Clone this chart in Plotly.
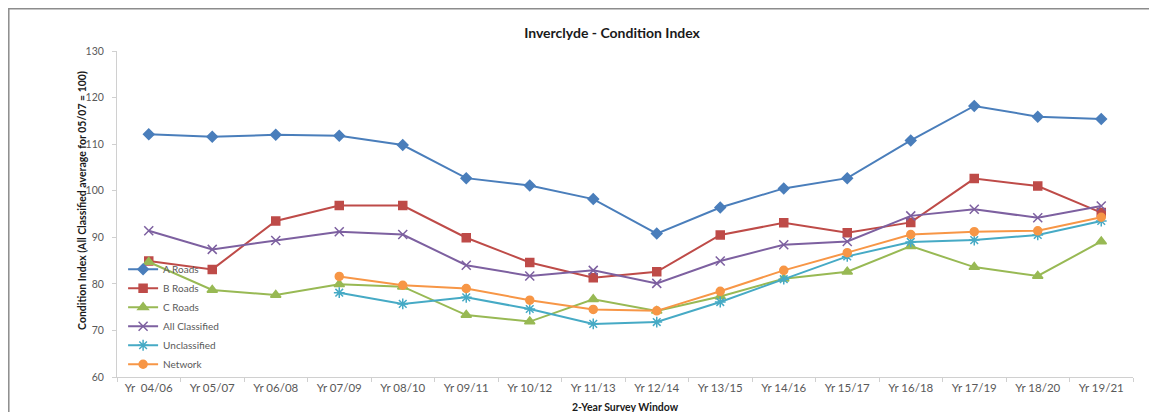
import plotly.graph_objects as go

categories = ["Yr  04/06", "Yr 05/07", "Yr 06/08", "Yr 07/09", "Yr 08/10", "Yr 09/11",
              "Yr 10/12", "Yr 11/13", "Yr 12/14", "Yr 13/15", "Yr 14/16", "Yr 15/17",
              "Yr 16/18", "Yr 17/19", "Yr 18/20", "Yr 19/21"]

a_roads = [112.1, 111.6, 112.0, 111.8, 109.8, 102.7, 101.1, 98.2, 90.8, 96.4,
           100.5, 102.7, 110.8, 118.2, 115.9, 115.4]
b_roads = [84.9, 83.1, 93.5, 96.8, 96.8, 89.9, 84.6, 81.3, 82.6, 90.5,
           93.1, 91.0, 93.2, 102.6, 101.0, 95.3]
c_roads = [84.7, 78.7, 77.6, 79.9, 79.4, 73.3, 71.9, 76.7, 74.2, 77.3,
           81.1, 82.6, 88.1, 83.6, 81.7, 89.1]
all_classified = [91.4, 87.4, 89.3, 91.2, 90.6, 84.0, 81.7, 82.9, 80.1, 84.9,
                  88.4, 89.1, 94.6, 96.0, 94.2, 96.7]
unclassified = [None, None, None, 78.1, 75.7, 77.1, 74.6, 71.4, 71.8, 76.1,
                81.0, 85.9, 89.0, 89.4, 90.5, 93.5]
network = [None, None, None, 81.6, 79.7, 79.0, 76.5, 74.5, 74.2, 78.4,
           82.9, 86.7, 90.6, 91.2, 91.4, 94.3]

series = [
    ("A Roads", a_roads, "#4A7EBB", "diamond", 8),
    ("B Roads", b_roads, "#BE4B48", "square", 8),
    ("C Roads", c_roads, "#98B954", "triangle-up", 9),
    ("All Classified", all_classified, "#7D60A0", "x-thin-open", 9),
    ("Unclassified", unclassified, "#46AAC5", "asterisk-open", 9),
    ("Network", network, "#F79646", "circle", 8),
]

fig = go.Figure()
for name, vals, color, sym, size in series:
    fig.add_trace(go.Scatter(
        x=categories, y=vals, name=name, mode="lines+markers",
        line=dict(color=color, width=2),
        marker=dict(symbol=sym, size=size, color=color,
                    line=dict(color=color, width=1.5)),
        connectgaps=False,
    ))

font_family = "Lato, 'Liberation Sans', sans-serif"
W, H = 1149, 404
fig.update_layout(
    width=W, height=H,
    margin=dict(l=109, r=24, t=43, b=35, autoexpand=False),
    paper_bgcolor="white", plot_bgcolor="white",
    font=dict(family=font_family, color="#595959", size=10),
    title=dict(text="<b>Inverclyde - Condition Index</b>", x=0.5257, xanchor="center",
               y=0.938, yanchor="middle",
               font=dict(family=font_family, size=14, color="#1a1a1a")),
    showlegend=True,
    legend=dict(x=0.006, y=0.375, xanchor="left", yanchor="top",
                bgcolor="rgba(0,0,0,0)", font=dict(size=10, color="#595959"),
                itemwidth=30, tracegroupgap=0, traceorder="normal"),
    shapes=[dict(type="rect", xref="paper", yref="paper",
                 x0=-0.1065, x1=1.06, y0=-0.2, y1=1.1296,
                 line=dict(color="#8c8c8c", width=1.5), layer="below")],
    annotations=[
        dict(text="<b>Condition Index (All Classified average for 05/07 = 100)</b>",
             xref="paper", yref="paper", x=-0.0345, y=0.543,
             xanchor="center", yanchor="middle", textangle=-90,
             showarrow=False, font=dict(size=10.5, color="#1a1a1a")),
        dict(text="<b>2-Year Survey Window</b>",
             xref="paper", yref="paper", x=0.5, y=-0.092,
             xanchor="center", yanchor="middle",
             showarrow=False, font=dict(size=10.5, color="#1a1a1a")),
    ],
)
fig.update_xaxes(
    type="category", showgrid=False, showline=True, linecolor="#D0D0D0", linewidth=1,
    ticks="outside", tickson="boundaries", ticklen=4, tickcolor="#D0D0D0",
    tickfont=dict(size=11.5, color="#595959"), automargin=False,
    range=[-0.5, 15.5],
)
fig.update_yaxes(
    range=[60, 130], dtick=10, showgrid=False, showline=True, linecolor="#D0D0D0",
    linewidth=1, ticks="outside", ticklen=4, tickcolor="#D0D0D0", ticklabelstandoff=6,
    tickfont=dict(size=10.5, color="#595959"), zeroline=False, automargin=False,
)

fig.write_html("out.html")
